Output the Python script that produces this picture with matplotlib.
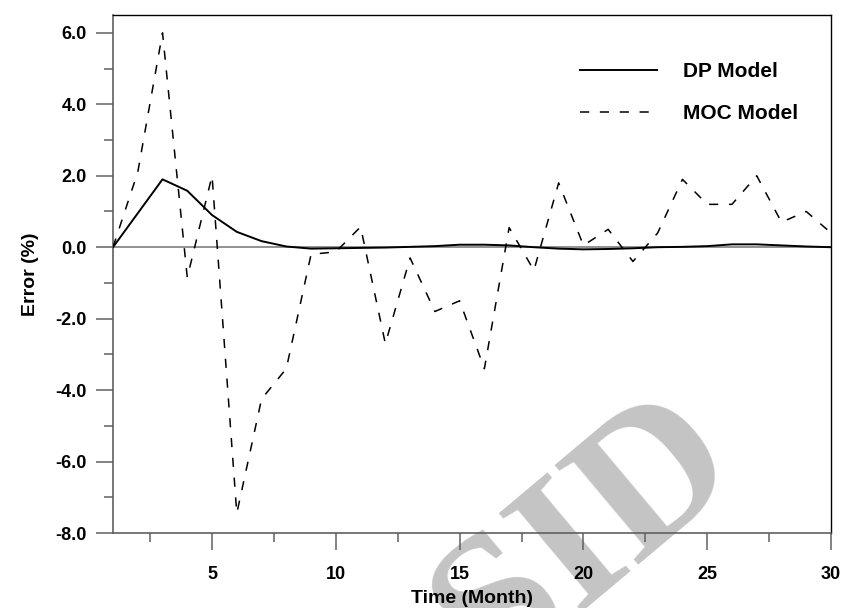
import matplotlib
matplotlib.use("Agg")
import matplotlib.pyplot as plt
from matplotlib.ticker import MultipleLocator, FormatStrFormatter

months = list(range(1, 31))
dp_model = [0.0, 0.95, 1.9, 1.58, 0.9, 0.43, 0.17, 0.02, -0.04, -0.03,
            -0.02, -0.01, 0.01, 0.03, 0.07, 0.07, 0.05, 0.0, -0.04, -0.06,
            -0.05, -0.03, 0.0, 0.01, 0.03, 0.08, 0.08, 0.05, 0.02, 0.0]
moc_model = [0.0, 2.1, 6.0, -0.85, 2.0, -7.45, -4.25, -3.4, -0.2, -0.13,
             0.57, -2.7, -0.3, -1.8, -1.5, -3.4, 0.55, -0.65, 1.8, 0.05,
             0.5, -0.4, 0.4, 1.9, 1.2, 1.2, 2.0, 0.7, 1.0, 0.4]
series_labels = ["DP Model", "MOC Model"]
x_ticks = [5, 10, 15, 20, 25, 30]
y_ticks = [-8.0, -6.0, -4.0, -2.0, 0.0, 2.0, 4.0, 6.0]

plt.rcParams['font.family'] = ['Liberation Sans', 'DejaVu Sans']
plt.rcParams['font.weight'] = 'bold'

fig = plt.figure(figsize=(8.42, 6.08), dpi=100)
ax = fig.add_axes([113/842, 1 - 533/608, 718/842, 518/608])
ax.set_facecolor('none')

# watermark
fig.text(0.697, 0.116, "SID", fontsize=142, family='Liberation Serif',
         color='#c4c4c4', rotation=40, ha='center', va='center', zorder=-5)

ax.axhline(0, color='#7f7f7f', lw=1.2, zorder=1)
ax.plot(months, dp_model, color='black', lw=1.4, label=series_labels[0], zorder=3)
ax.plot(months, moc_model, color='black', lw=1.1, linestyle=(0, (6, 7)),
        label=series_labels[1], zorder=3)

ax.set_xlim(1, 30)
ax.set_ylim(-8, 6.5)
ax.set_xticks(x_ticks)
ax.xaxis.set_minor_locator(MultipleLocator(2.5))
ax.set_yticks(y_ticks)
ax.yaxis.set_major_formatter(FormatStrFormatter('%.1f'))
ax.yaxis.set_minor_locator(MultipleLocator(1.0))

gray = '#606060'
for side in ['left', 'bottom']:
    ax.spines[side].set_color(gray)
    ax.spines[side].set_linewidth(1.2)
for side in ['top', 'right']:
    ax.spines[side].set_color('black')
    ax.spines[side].set_linewidth(1.0)

ax.tick_params(axis='both', which='major', direction='out', length=12,
               width=1.1, color=gray, labelsize=13, pad=7)
ax.tick_params(axis='x', which='major', pad=12)
ax.tick_params(axis='both', which='minor', direction='out', length=6.5,
               width=1.1, color=gray)
for lab in ax.get_xticklabels() + ax.get_yticklabels():
    lab.set_fontweight('bold')

ax.set_xlabel("Time (Month)", fontsize=14, fontweight='bold', labelpad=5)
ax.set_ylabel("Error (%)", fontsize=14, fontweight='bold', labelpad=12)

leg = ax.legend(loc='upper left', bbox_to_anchor=(0.650, 0.909), frameon=False,
                borderaxespad=0, borderpad=0, handlelength=3.7, handletextpad=1.25,
                labelspacing=1.09, prop={'size': 15, 'weight': 'bold'})

fig.savefig("out.png", dpi=100)
